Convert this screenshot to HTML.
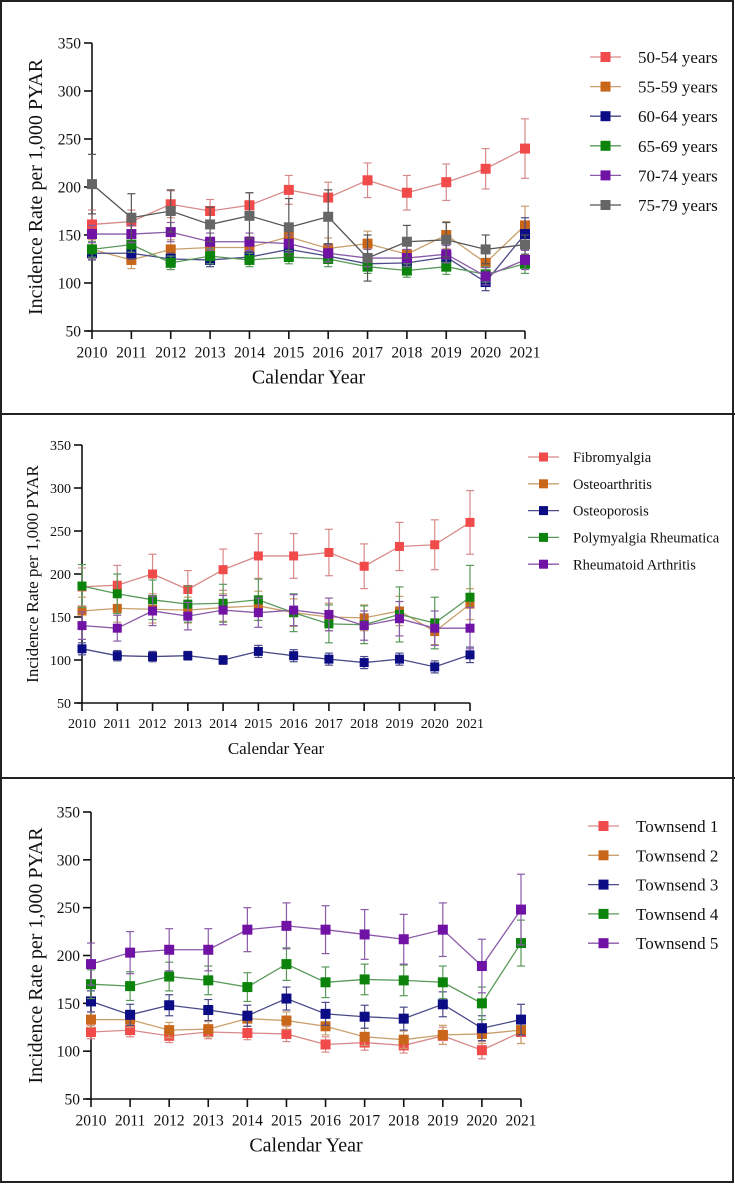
<!DOCTYPE html>
<html><head><meta charset="utf-8"><style>
body{margin:0;background:#fff;}
svg{display:block;}
svg text{font-family:"Liberation Serif","Times New Roman","DejaVu Serif",serif;}
</style></head><body>
<svg id="s" width="735" height="1184" font-family="Liberation Serif, DejaVu Serif, serif">
<rect x="1" y="1" width="732" height="1181" fill="none" stroke="#222" stroke-width="2"/>
<line x1="0" y1="414" x2="735" y2="414" stroke="#222" stroke-width="2"/>
<line x1="0" y1="778" x2="735" y2="778" stroke="#222" stroke-width="2"/>
</svg>
<script>
const years=["2010","2011","2012","2013","2014","2015","2016","2017","2018","2019","2020","2021"];
const yTicks=[50,100,150,200,250,300,350];
// Panel 1
const p1Names=["50-54 years","55-59 years","60-64 years","65-69 years","70-74 years","75-79 years"];
const p1a=[161,164,182,175,181,197,189,207,194,205,219,240];
const p1b=[135,124,135,137,137,148,136,141,130,150,121,160];
const p1c=[131,131,125,124,127,135,128,120,121,127,101,151];
const p1d=[135,140,121,128,124,127,125,117,113,117,109,120];
const p1e=[151,151,153,143,143,141,131,126,126,130,107,124];
const p1f=[203,168,175,161,170,158,169,126,143,145,135,140];
const p1aErr=[15,12,14,12,13,15,16,18,18,19,21,31];
const p1bErr=[10,9,10,10,11,12,11,13,12,14,14,20];
const p1cErr=[7,6,6,7,6,7,7,6,7,7,9,17];
const p1dErr=[8,8,7,8,7,7,8,7,7,8,8,10];
const p1eErr=[9,9,10,9,9,9,9,9,9,9,9,10];
const p1fErr=[31,25,22,18,24,30,28,24,17,18,15,10];
// Panel 2
const p2Names=["Fibromyalgia","Osteoarthritis","Osteoporosis","Polymyalgia Rheumatica","Rheumatoid Arthritis"];
const p2a=[185,187,200,182,205,221,221,225,209,232,234,260];
const p2b=[157,160,159,158,161,163,155,150,149,157,133,165];
const p2c=[113,105,104,105,100,110,105,101,97,101,92,106];
const p2d=[186,177,170,165,166,170,155,142,141,153,143,173];
const p2e=[140,137,157,151,158,155,158,153,140,148,137,137];
const p2aErr=[22,23,23,22,24,26,26,27,26,28,29,37];
const p2bErr=[16,16,16,15,16,17,16,16,15,17,15,18];
const p2cErr=[7,6,6,5,5,7,7,7,7,7,7,9];
const p2dErr=[25,23,23,21,22,24,22,22,22,32,30,37];
const p2eErr=[16,15,17,16,17,17,18,19,17,20,20,24];
// Panel 3
const p3Names=["Townsend 1","Townsend 2","Townsend 3","Townsend 4","Townsend 5"];
const p3a=[120,122,116,120,119,118,107,109,106,116,101,120];
const p3b=[133,133,122,123,134,132,126,115,112,117,118,122];
const p3c=[152,138,148,143,137,155,139,136,134,149,124,133];
const p3d=[170,168,178,174,167,191,172,175,174,172,150,213];
const p3e=[191,203,206,206,227,231,227,222,217,227,189,248];
const p3aErr=[7,7,7,7,7,8,8,8,8,9,9,12];
const p3bErr=[8,8,8,8,8,9,9,9,9,10,10,14];
const p3cErr=[11,11,11,11,11,12,12,12,12,13,13,16];
const p3dErr=[15,15,15,15,15,17,16,16,16,17,17,24];
const p3eErr=[22,22,22,22,23,24,25,26,26,28,28,37];

const fill=["#f04a4a","#c8661a","#0c0c84","#0c840c","#7012a4","#666666"];
const line=["#d88a8a","#c8a06c","#4a4a8a","#5a9a5a","#8a5aa8","#555555"];
const FONT='"Liberation Serif","Times New Roman","DejaVu Serif",serif';
const NS="http://www.w3.org/2000/svg";
const svg=document.getElementById('s');
function mk(tag,attrs,parent){const e=document.createElementNS(NS,tag);for(const k in attrs)e.setAttribute(k,attrs[k]);if(tag==='text'){e.style.fontFamily=FONT;}(parent||svg).appendChild(e);return e;}

function panel(P,series,errs,names){
  const g=mk('g',{});
  
  
  const xs=i=>P.x0+i*(P.x1-P.x0)/(years.length-1);
  const ys=v=>P.yb-(v-50)*(P.yb-P.yt)/300;
  const ya=mk('line',{x1:P.x0,y1:P.yt,x2:P.x0,y2:P.yb,stroke:'#111','stroke-width':1.6},g);
  
  
  const xa=mk('line',{x1:P.x0-5,y1:P.yb,x2:P.x1,y2:P.yb,stroke:'#111','stroke-width':1.6},g);
  
  
  yTicks.forEach(v=>{
    mk('line',{x1:P.x0-8,y1:ys(v),x2:P.x0,y2:ys(v),stroke:'#111','stroke-width':1.6},g);
    const t=mk('text',{x:P.x0-11,y:ys(v)+P.fs*0.35,'text-anchor':'end','font-size':P.fs,fill:'#111'},g);
    t.textContent=v;
    
    
  });
  years.forEach((y,i)=>{
    mk('line',{x1:xs(i),y1:P.yb,x2:xs(i),y2:P.yb+8,stroke:'#111','stroke-width':1.6},g);
    const t=mk('text',{x:xs(i),y:P.yb+P.fs+11,'text-anchor':'middle','font-size':P.fs,fill:'#111'},g);
    t.textContent=y;
    
    
  });
  const xt=mk('text',{x:(P.x0+P.x1)/2,y:P.yb+P.fs+37,'text-anchor':'middle','font-size':P.tfs,fill:'#111'},g);
  xt.textContent='Calendar Year';
  
  
  const cy=(P.yt+P.yb)/2;
  const yt=mk('text',{x:P.ytx,y:cy,'text-anchor':'middle','font-size':P.tfs,fill:'#111',transform:`rotate(-90 ${P.ytx} ${cy})`},g);
  yt.textContent='Incidence Rate per 1,000 PYAR';
  
  
  series.forEach((s,k)=>{
    const sg=mk('g',{},g);
    
    
    s.forEach((v,i)=>{
      const e=errs[k][i],x=xs(i);
      mk('line',{x1:x,y1:ys(v-e),x2:x,y2:ys(v+e),stroke:line[k],'stroke-width':1.2},sg);
      mk('line',{x1:x-4,y1:ys(v-e),x2:x+4,y2:ys(v-e),stroke:line[k],'stroke-width':1.2},sg);
      mk('line',{x1:x-4,y1:ys(v+e),x2:x+4,y2:ys(v+e),stroke:line[k],'stroke-width':1.2},sg);
    });
    const pl=mk('polyline',{points:s.map((v,i)=>xs(i)+','+ys(v)).join(' '),fill:'none',stroke:line[k],'stroke-width':1.3},sg);
    
    
    s.forEach((v,i)=>{
      const r=mk('rect',{x:xs(i)-P.ms/2,y:ys(v)-P.ms/2,width:P.ms,height:P.ms,fill:fill[k]},sg);
      
      
    });
    const ly=P.ly0+k*P.ldy;
    const le=mk('g',{},g);
    
    
    mk('line',{x1:P.lx,y1:ly,x2:P.lx+31,y2:ly,stroke:line[k],'stroke-width':1.3},le);
    mk('rect',{x:P.lx+15.5-P.ms/2,y:ly-P.ms/2,width:P.ms,height:P.ms,fill:fill[k]},le);
    const lt=mk('text',{x:P.ltx,y:ly+P.lfs*0.35,'font-size':P.lfs,fill:'#111'},le);
    lt.textContent=names[k];
  });
}
panel({id:'panel-age-groups',x0:92,x1:525,yt:43,yb:331,fs:15.5,tfs:20,ytx:42,ms:10,lx:590,ltx:638,ly0:57,ldy:29.6,lfs:17},
  [p1a,p1b,p1c,p1d,p1e,p1f],[p1aErr,p1bErr,p1cErr,p1dErr,p1eErr,p1fErr],p1Names);
panel({id:'panel-conditions',x0:82,x1:470,yt:445,yb:703,fs:14,tfs:17,ytx:38,ms:9,lx:528,ltx:573,ly0:457,ldy:26.8,lfs:14.5},
  [p2a,p2b,p2c,p2d,p2e],[p2aErr,p2bErr,p2cErr,p2dErr,p2eErr],p2Names);
panel({id:'panel-townsend',x0:91,x1:521,yt:812,yb:1099,fs:15.5,tfs:20,ytx:42,ms:10,lx:588,ltx:636,ly0:826,ldy:29.3,lfs:17},
  [p3a,p3b,p3c,p3d,p3e],[p3aErr,p3bErr,p3cErr,p3dErr,p3eErr],p3Names);
</script>
</body></html>
